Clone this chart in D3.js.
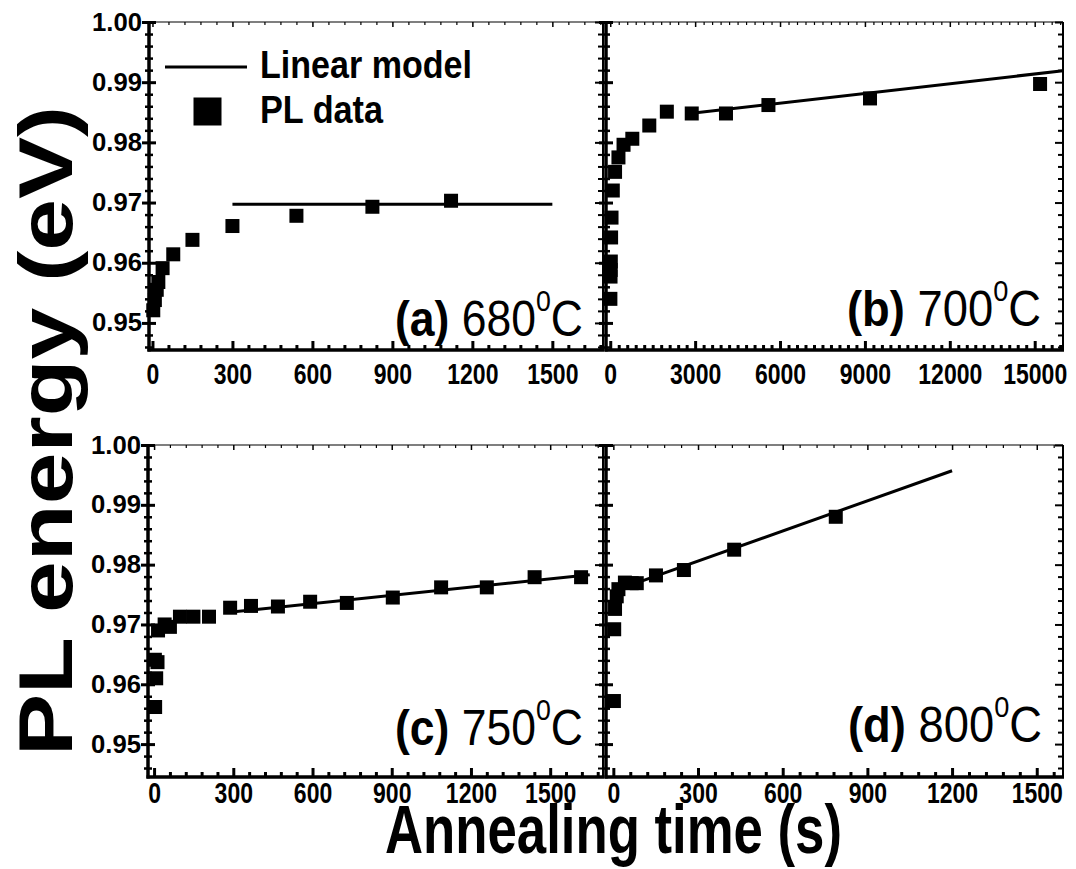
<!DOCTYPE html>
<html><head><meta charset="utf-8">
<script src="https://cdn.jsdelivr.net/npm/d3@7"></script>
<style>
  body { margin: 0; background: #fff; }
  text { font-family: "Liberation Sans", Arial, sans-serif; fill: #000; }
</style>
</head><body>
<svg id="chart" width="1076" height="869"></svg>
<script>
// PL peak energy versus annealing time at four annealing temperatures

// (a) 680 C
const timeA   = [3, 9, 16, 22, 38, 78, 150, 300, 540, 825, 1120];
const energyA = [0.9521, 0.9538, 0.9555, 0.9568, 0.9591, 0.9614, 0.9638, 0.9661, 0.9678, 0.9693, 0.9703];
const fitTimeA   = [300, 1500];
const fitEnergyA = [0.9697, 0.9697];

// (b) 700 C
const timeB   = [5, 10, 15, 20, 30, 45, 90, 170, 290, 470, 780, 1380, 2000, 2880, 4090, 5590, 9180, 15190];
const energyB = [0.9540, 0.9577, 0.9588, 0.9602, 0.9642, 0.9675, 0.9720, 0.9751, 0.9775, 0.9796, 0.9806, 0.9828, 0.9851, 0.9848, 0.9848, 0.9862, 0.9873, 0.9897];
const fitTimeB   = [2800, 16000];
const fitEnergyB = [0.9848, 0.9919];

// (c) 750 C
const timeC   = [4, 8, 3, 13, 15, 40, 60, 98, 149, 208, 288, 367, 469, 591, 730, 904, 1087, 1260, 1441, 1617];
const energyC = [0.9562, 0.9610, 0.9641, 0.9637, 0.9690, 0.9700, 0.9696, 0.9713, 0.9713, 0.9713, 0.9728, 0.9731, 0.9730, 0.9738, 0.9736, 0.9745, 0.9762, 0.9762, 0.9779, 0.9779];
const fitTimeC   = [275, 1650];
const fitEnergyC = [0.9720, 0.9783];

// (d) 800 C
const timeD   = [2, 3, 6, 12, 18, 41, 65, 83, 151, 250, 428, 788];
const energyD = [0.9572, 0.9692, 0.9726, 0.9747, 0.9759, 0.9770, 0.9769, 0.9769, 0.9782, 0.9791, 0.9825, 0.9880];
const fitTimeD   = [80, 1200];
const fitEnergyD = [0.9769, 0.9957];

// tick labels
const xTicksShort = [0, 300, 600, 900, 1200, 1500];
const xTicksLong  = [0, 3000, 6000, 9000, 12000, 15000];
const yTicks      = [0.95, 0.96, 0.97, 0.98, 0.99, 1.00];

const panelLetters = ["(a)", "(b)", "(c)", "(d)"];
const panelTemps   = ["680", "700", "750", "800"];
const legendNames  = ["Linear model", "PL data"];
const xTitle = "Annealing time (s)";
const yTitle = "PL energy (eV)";

const svg = d3.select("#chart");

const panels = [
  { t: timeA, e: energyA, ft: fitTimeA, fe: fitEnergyA, xDomain: [-13, 1690], xRange: [149, 603],
    yDomain: [0.9455, 1.0], yRange: [350, 22], xTicks: xTicksShort, xMinorStep: 60, yLabels: true,
    labelPad: 13, letter: panelLetters[0], temp: panelTemps[0], labelX: 583, labelY: 336, labelW: 188 },
  { t: timeB, e: energyB, ft: fitTimeB, fe: fitEnergyB, xDomain: [-150, 16000], xRange: [606, 1063],
    yDomain: [0.9455, 1.0], yRange: [350, 22], xTicks: xTicksLong, xMinorStep: 300, yLabels: false,
    labelPad: 13, letter: panelLetters[1], temp: panelTemps[1], labelX: 1041, labelY: 326, labelW: 194 },
  { t: timeC, e: energyC, ft: fitTimeC, fe: fitEnergyC, xDomain: [-23, 1700], xRange: [148, 603],
    yDomain: [0.9445, 1.0], yRange: [777, 445], xTicks: xTicksShort, xMinorStep: 60, yLabels: true,
    labelPad: 5, letter: panelLetters[2], temp: panelTemps[2], labelX: 583, labelY: 745, labelW: 188 },
  { t: timeD, e: energyD, ft: fitTimeD, fe: fitEnergyD, xDomain: [-26, 1593], xRange: [606, 1063],
    yDomain: [0.9445, 1.0], yRange: [777, 445], xTicks: xTicksShort, xMinorStep: 60, yLabels: false,
    labelPad: 5, letter: panelLetters[3], temp: panelTemps[3], labelX: 1042, labelY: 742, labelW: 194 }
];

function drawPanel(p) {
  const g = svg.append("g");
  const x = d3.scaleLinear().domain(p.xDomain).range(p.xRange);
  const y = d3.scaleLinear().domain(p.yDomain).range(p.yRange);
  const [xl, xr] = p.xRange;
  const [yb, yt] = p.yRange;

  const isMajorX = v => p.xTicks.some(t => Math.abs(t - v) < 1e-6);
  const xMinor = d3.range(0, p.xDomain[1], p.xMinorStep).filter(v => !isMajorX(v));
  const yMinor = d3.range(473, 501).filter(i => i % 5 !== 0).map(i => i * 0.002)
    .filter(v => v >= p.yDomain[0] && v <= p.yDomain[1]);

  const strip = s => s.select(".domain").remove();

  // top axis: thin, small inward ticks
  g.append("g").attr("transform", `translate(0,${yt})`)
    .call(d3.axisTop(x).tickValues(xMinor).tickSizeInner(-3).tickSizeOuter(0).tickFormat(""))
    .call(strip).selectAll("line").attr("stroke-width", 1.2);
  g.append("g").attr("transform", `translate(0,${yt})`)
    .call(d3.axisTop(x).tickValues(p.xTicks).tickSizeInner(-5).tickSizeOuter(0).tickFormat(""))
    .call(strip).selectAll("line").attr("stroke-width", 1.5);

  // right axis: inward ticks
  g.append("g").attr("transform", `translate(${xr},0)`)
    .call(d3.axisRight(y).tickValues(yMinor).tickSizeInner(-5).tickSizeOuter(0).tickFormat(""))
    .call(strip).selectAll("line").attr("stroke-width", 2);
  g.append("g").attr("transform", `translate(${xr},0)`)
    .call(d3.axisRight(y).tickValues(yTicks).tickSizeInner(-8).tickSizeOuter(0).tickFormat(""))
    .call(strip).selectAll("line").attr("stroke-width", 2);

  // bottom axis: thick, ticks pointing up
  g.append("g").attr("transform", `translate(0,${yb})`)
    .call(d3.axisBottom(x).tickValues(xMinor).tickSizeInner(-5).tickSizeOuter(0).tickFormat(""))
    .call(strip).selectAll("line").attr("stroke-width", 3);
  const bx = g.append("g").attr("transform", `translate(0,${yb})`)
    .call(d3.axisBottom(x).tickValues(p.xTicks).tickSizeInner(-9).tickSizeOuter(0)
      .tickPadding(p.labelPad).tickFormat(d3.format("d")))
    .call(strip);
  bx.selectAll("line").attr("stroke-width", 3);
  bx.selectAll("text")
    .style("font-size", "30px").style("font-weight", "bold")
    .attr("textLength", d => String(d).length * 12.8)
    .attr("lengthAdjust", "spacingAndGlyphs");

  // left axis: thick, ticks crossing the axis
  g.append("g").attr("transform", `translate(${xl},0)`)
    .call(d3.axisLeft(y).tickValues(yMinor).tickSize(4).tickFormat(""))
    .call(strip).selectAll("line").attr("x1", 4).attr("stroke-width", 2.5);
  const ly = g.append("g").attr("transform", `translate(${xl},0)`)
    .call(d3.axisLeft(y).tickValues(yTicks).tickSize(7).tickPadding(0)
      .tickFormat(p.yLabels ? d3.format(".2f") : ""))
    .call(strip);
  ly.selectAll("line").attr("x1", 7).attr("stroke-width", 3);
  ly.selectAll("text")
    .style("font-size", "25px").style("font-weight", "bold")
    .attr("textLength", 50).attr("lengthAdjust", "spacingAndGlyphs");

  // frame
  g.append("line").attr("x1", xl).attr("x2", xr).attr("y1", yt).attr("y2", yt)
    .attr("stroke", "#000").attr("stroke-width", 1.2);
  g.append("line").attr("x1", xr).attr("x2", xr).attr("y1", yt).attr("y2", yb)
    .attr("stroke", "#000").attr("stroke-width", 2);
  g.append("line").attr("x1", xl).attr("x2", xl).attr("y1", yt - 1).attr("y2", yb + 1.5)
    .attr("stroke", "#000").attr("stroke-width", 3.5);
  g.append("line").attr("x1", xl - 1.5).attr("x2", xr + 1).attr("y1", yb).attr("y2", yb)
    .attr("stroke", "#000").attr("stroke-width", 3.5);

  // linear model
  const fit = p.ft.map((t, i) => [t, p.fe[i]]);
  g.append("path").datum(fit)
    .attr("d", d3.line().x(d => x(d[0])).y(d => y(d[1])))
    .attr("fill", "none").attr("stroke", "#000").attr("stroke-width", 3);

  // PL data
  const s = 14;
  g.selectAll("rect.pt").data(p.t.map((t, i) => [t, p.e[i]])).join("rect")
    .attr("class", "pt")
    .attr("x", d => x(d[0]) - s / 2).attr("y", d => y(d[1]) - s / 2)
    .attr("width", s).attr("height", s).attr("fill", "#000");

  // panel label
  const lab = g.append("text").attr("x", p.labelX).attr("y", p.labelY)
    .attr("text-anchor", "end").style("font-size", "50px")
    .attr("textLength", p.labelW).attr("lengthAdjust", "spacingAndGlyphs");
  lab.append("tspan").style("font-weight", "bold").text(p.letter);
  lab.append("tspan").text("\u00a0" + p.temp);
  lab.append("tspan").attr("dy", -25).style("font-size", "30px").text("0");
  lab.append("tspan").attr("dy", 25).text("C");

  return { x, y };
}

const scales = panels.map(drawPanel);

// legend in panel (a)
const lg = svg.append("g");
lg.append("line").attr("x1", 165).attr("x2", 247).attr("y1", 67).attr("y2", 67)
  .attr("stroke", "#000").attr("stroke-width", 3);
lg.append("text").attr("x", 260).attr("y", 78)
  .style("font-size", "39px").style("font-weight", "bold")
  .attr("textLength", 212).attr("lengthAdjust", "spacingAndGlyphs").text(legendNames[0]);
lg.append("rect").attr("x", 193.5).attr("y", 97.5).attr("width", 28).attr("height", 28).attr("fill", "#000");
lg.append("text").attr("x", 260).attr("y", 123)
  .style("font-size", "39px").style("font-weight", "bold")
  .attr("textLength", 123).attr("lengthAdjust", "spacingAndGlyphs").text(legendNames[1]);

// axis titles
svg.append("text").attr("x", 385).attr("y", 853)
  .style("font-size", "68px").style("font-weight", "bold")
  .attr("textLength", 457).attr("lengthAdjust", "spacingAndGlyphs").text(xTitle);
svg.append("text").attr("transform", "translate(72,431) rotate(-90)")
  .attr("text-anchor", "middle")
  .style("font-size", "76px").style("font-weight", "bold")
  .attr("textLength", 650).attr("lengthAdjust", "spacingAndGlyphs").text(yTitle);
</script>
</body></html>
